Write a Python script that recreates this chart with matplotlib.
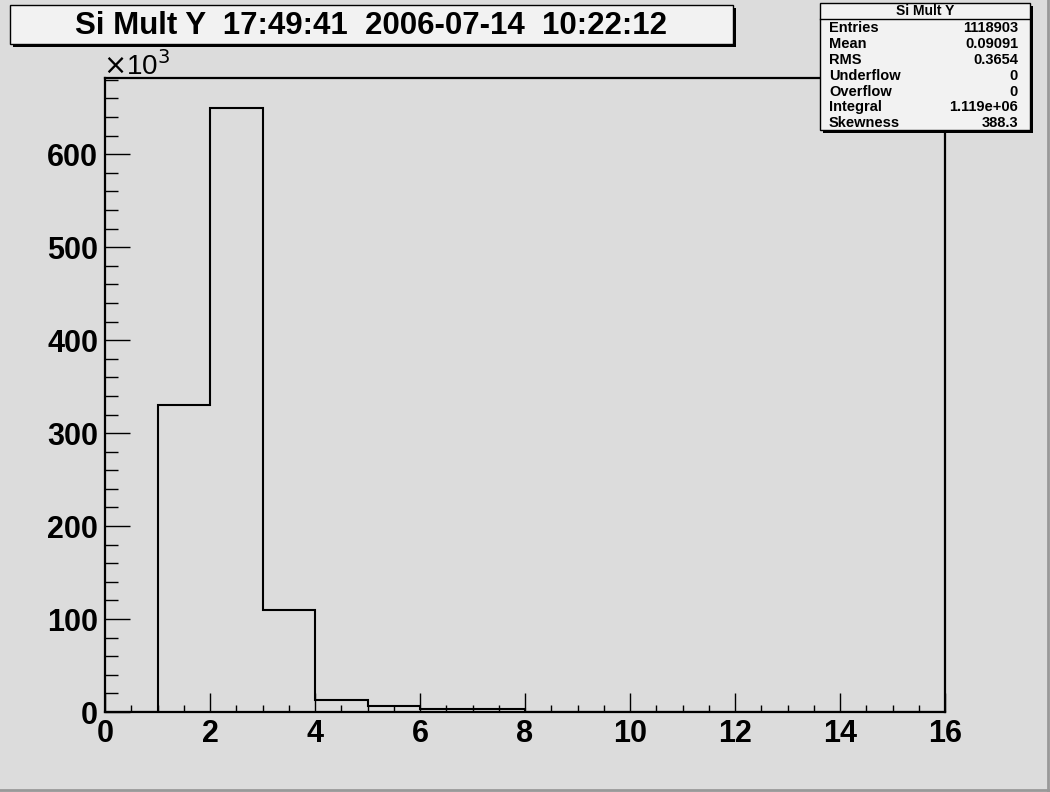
import matplotlib
matplotlib.use("Agg")
import matplotlib.pyplot as plt
from matplotlib.patches import Rectangle
from matplotlib.ticker import MultipleLocator, FuncFormatter

# Data (counts in thousands)
bin_edges = list(range(0, 17))
counts_k = [0, 330.5, 649.5, 109.8, 13.0, 6.0, 3.2, 3.0, 0.4, 0.3, 0.3, 0.3, 0.3, 0.3, 0.3, 0.3]
title_text = "Si Mult Y  17:49:41  2006-07-14  10:22:12"
stat_title = "Si Mult Y"
stat_names = ["Entries", "Mean", "RMS", "Underflow", "Overflow", "Integral", "Skewness"]
stat_values = ["1118903", "0.09091", "0.3654", "0", "0", "1.119e+06", "388.3"]

bg = "#dcdcdc"
plt.rcParams["font.family"] = ["Liberation Sans", "DejaVu Sans"]

W, H = 1050, 792
fig = plt.figure(figsize=(W / 100, H / 100), dpi=100, facecolor=bg)

def fx(px):
    return px / W

def fy(py):
    return 1 - py / H

ax = fig.add_axes([fx(105), fy(712), fx(945) - fx(105), fy(78) - fy(712)])
ax.set_facecolor(bg)
ax.stairs(counts_k, bin_edges, color="black", linewidth=1.5)
ax.set_xlim(0, 16)
ax.set_ylim(0, 682)
for s in ax.spines.values():
    s.set_linewidth(1.6)

ax.xaxis.set_major_locator(MultipleLocator(2))
ax.xaxis.set_minor_locator(MultipleLocator(0.5))
ax.yaxis.set_major_locator(MultipleLocator(100))
ax.yaxis.set_minor_locator(MultipleLocator(20))
ax.tick_params(axis="x", which="major", direction="in", length=14, width=1, labelsize=22, pad=5)
ax.tick_params(axis="x", which="minor", direction="in", length=5, width=1)
ax.tick_params(axis="y", which="major", direction="in", length=18, width=1, labelsize=22, pad=5)
ax.tick_params(axis="y", which="minor", direction="in", length=9, width=1)
for lab in ax.get_xticklabels() + ax.get_yticklabels():
    lab.set_fontweight("bold")
ax.xaxis.set_major_formatter(FuncFormatter(lambda v, p: f"{int(v)}"))
ax.yaxis.set_major_formatter(FuncFormatter(lambda v, p: f"{int(v)}"))

# x10^3 label
fig.text(fx(103), fy(66), r"$\times$10$^{3}$", fontsize=20, ha="left", va="center")

# Title box with shadow
fig.patches.append(Rectangle((fx(13), fy(47)), fx(733) - fx(10), fy(5) - fy(44),
                             transform=fig.transFigure, facecolor="black", edgecolor="none", zorder=1))
fig.patches.append(Rectangle((fx(10), fy(44)), fx(733) - fx(10), fy(5) - fy(44),
                             transform=fig.transFigure, facecolor="#f2f2f2", edgecolor="black",
                             linewidth=1, zorder=2))
fig.text(fx(371), fy(26), title_text, fontsize=22.5, fontweight="bold", ha="center", va="center", zorder=3)

# Stats box with shadow
x0, x1, y0, y1 = 820, 1030, 3, 130
fig.patches.append(Rectangle((fx(x0 + 3), fy(y1 + 3)), fx(x1) - fx(x0), fy(y0) - fy(y1),
                             transform=fig.transFigure, facecolor="black", edgecolor="none", zorder=4))
fig.patches.append(Rectangle((fx(x0), fy(y1)), fx(x1) - fx(x0), fy(y0) - fy(y1),
                             transform=fig.transFigure, facecolor="#f2f2f2", edgecolor="black",
                             linewidth=1, zorder=5))
fig.add_artist(plt.Line2D([fx(x0), fx(x1)], [fy(19), fy(19)], transform=fig.transFigure,
                          color="black", linewidth=1, zorder=6))
fig.text(fx((x0 + x1) / 2), fy(11), stat_title, fontsize=10, fontweight="bold", ha="center", va="center", zorder=7)
row_y = [28, 44, 60, 76, 92, 107, 123]
for name, val, yy in zip(stat_names, stat_values, row_y):
    fig.text(fx(829), fy(yy), name, fontsize=10.5, fontweight="bold", ha="left", va="center", zorder=7)
    fig.text(fx(1018), fy(yy), val, fontsize=10.5, fontweight="bold", ha="right", va="center", zorder=7)

# bottom/right frame lines of canvas
fig.add_artist(plt.Line2D([0, 1], [fy(790), fy(790)], transform=fig.transFigure, color="#999999", linewidth=2))
fig.add_artist(plt.Line2D([fx(1048), fx(1048)], [0, 1], transform=fig.transFigure, color="#999999", linewidth=2))

fig.savefig("out.png", dpi=100, facecolor=bg)
